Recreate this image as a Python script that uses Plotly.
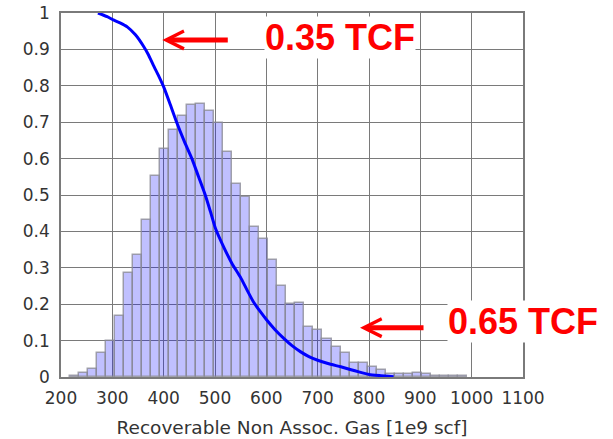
import numpy as np
import plotly.graph_objects as go

# ---- data ----
bin_start = 218.0
bin_width = 17.55
hist_values = [0.004, 0.011, 0.021, 0.065, 0.098, 0.168, 0.286, 0.335, 0.43, 0.552,
               0.626, 0.678, 0.718, 0.746, 0.75, 0.732, 0.697, 0.617, 0.53, 0.495,
               0.412, 0.38, 0.322, 0.251, 0.20, 0.204, 0.137, 0.13, 0.105, 0.083,
               0.065, 0.038, 0.039, 0.028, 0.018, 0.007, 0.007, 0.007, 0.012, 0.007,
               0.004, 0.003, 0.002, 0.002]
bin_centers = bin_start + bin_width * (np.arange(len(hist_values)) + 0.5)

curve_x = [272, 290, 302, 315, 329, 345, 361, 370, 380, 390, 400, 413, 426, 440, 455,
           468, 481, 491, 501, 517, 533, 550, 562, 575, 588, 600, 617, 634, 650, 667,
           683, 700, 720, 745, 765, 780, 800, 820, 848]
curve_y = [1.0, 0.99, 0.981, 0.973, 0.962, 0.94, 0.908, 0.886, 0.856, 0.828, 0.797, 0.748,
           0.697, 0.648, 0.60, 0.55, 0.50, 0.455, 0.408, 0.357, 0.312, 0.273, 0.24, 0.206,
           0.18, 0.158, 0.13, 0.106, 0.086, 0.069, 0.056, 0.046, 0.037, 0.028, 0.02, 0.014,
           0.007, 0.004, 0.001]

x_ticks = [200, 300, 400, 500, 600, 700, 800, 900, 1000, 1100]
y_ticks = [0, 0.1, 0.2, 0.3, 0.4, 0.5, 0.6, 0.7, 0.8, 0.9, 1]
y_tick_labels = ["0", "0.1", "0.2", "0.3", "0.4", "0.5", "0.6", "0.7", "0.8", "0.9", "1"]
x_title = "Recoverable Non Assoc. Gas [1e9 scf]"
labels = ["0.35 TCF", "0.65 TCF"]

FONT = "DejaVu Sans, Verdana, sans-serif"
BOLD = "Liberation Sans, Arial, sans-serif"
GRID = "#7a7a7a"

fig = go.Figure()
fig.add_trace(go.Bar(
    x=bin_centers, y=hist_values, width=bin_width,
    marker=dict(color="rgba(10,10,255,0.26)",
                line=dict(color="rgba(140,140,150,0.8)", width=1.5)),
    showlegend=False, hoverinfo="skip"))
fig.add_trace(go.Scatter(
    x=curve_x, y=curve_y, mode="lines",
    line=dict(color="#0000ff", width=3, shape="spline", smoothing=0.5),
    showlegend=False, hoverinfo="skip"))

ann_font = dict(family=BOLD, size=36, color="#ff0000")
fig.update_layout(
    width=613, height=439,
    margin=dict(l=61, r=90, t=13, b=62),
    paper_bgcolor="white", plot_bgcolor="white",
    bargap=0,
    annotations=[
        dict(x=397.3, y=0.926, xref="x", yref="y", text="", showarrow=True,
             ax=67, ay=0, axref="pixel", ayref="pixel",
             arrowhead=5, arrowsize=0.7, arrowwidth=5, arrowcolor="#ff0000", standoff=0),
        dict(x=782.5, y=0.1354, xref="x", yref="y", text="", showarrow=True,
             ax=65, ay=0, axref="pixel", ayref="pixel",
             arrowhead=5, arrowsize=0.7, arrowwidth=5, arrowcolor="#ff0000", standoff=0),
        dict(x=743.5, y=0.934, xref="x", yref="y", text="<b>%s</b>" % labels[0],
             showarrow=False, font=ann_font, bgcolor="white", borderpad=0,
             xanchor="center", yanchor="middle"),
        dict(x=1100, y=0.1525, xref="x", yref="y", text="<b>%s</b>" % labels[1],
             showarrow=False, font=ann_font, bgcolor="white", borderpad=0,
             xanchor="center", yanchor="middle"),
    ],
)
fig.update_xaxes(
    range=[200, 1100], tickvals=x_ticks, ticktext=[str(v) for v in x_ticks],
    showgrid=True, gridcolor=GRID, gridwidth=1.4,
    showline=True, linecolor=GRID, linewidth=1.5, mirror=True,
    ticks="outside", ticklen=5, tickcolor="rgba(0,0,0,0)",
    tickfont=dict(family=FONT, size=17, color="#333333"),
    zeroline=False, automargin=False,
    title=dict(text=x_title, font=dict(family=FONT, size=18.5, color="#333333"), standoff=14),
)
fig.update_yaxes(
    range=[0, 1], tickvals=y_ticks, ticktext=y_tick_labels,
    showgrid=True, gridcolor=GRID, gridwidth=1.4,
    showline=True, linecolor=GRID, linewidth=1.5, mirror=True,
    ticks="outside", ticklen=6, tickcolor="rgba(0,0,0,0)",
    tickfont=dict(family=FONT, size=17, color="#333333"),
    zeroline=False, automargin=False,
)
fig.write_html("out.html", config={"displayModeBar": False},
               post_script="document.body.style.margin='0';")
